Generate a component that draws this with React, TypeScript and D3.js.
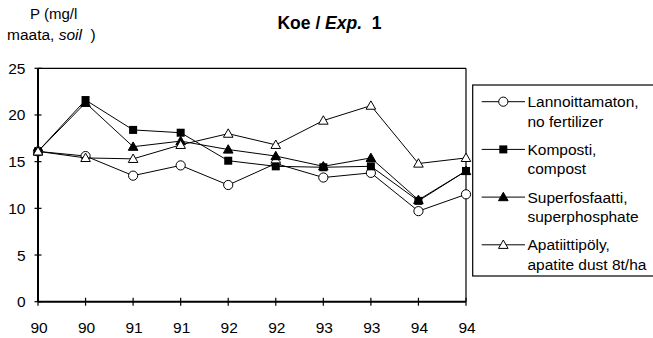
import React from "react";
import * as d3 from "d3";

const categories = ["90", "90", "91", "91", "92", "92", "93", "93", "94", "94"];
const noFertilizer = [16.1, 15.6, 13.5, 14.6, 12.5, 14.8, 13.3, 13.8, 9.7, 11.5];
const compost = [16.1, 21.6, 18.4, 18.1, 15.1, 14.5, 14.4, 14.5, 10.8, 14.0];
const superphosphate = [16.1, 21.3, 16.6, 17.2, 16.3, 15.6, 14.5, 15.4, 10.9, 14.0];
const apatite = [16.1, 15.4, 15.3, 16.8, 18.0, 16.8, 19.4, 21.0, 14.8, 15.4];
const yTicks = [0, 5, 10, 15, 20, 25];

type Marker = "circle" | "square" | "triangleFilled" | "triangleOpen";
const series: { name1: string; name2: string; values: number[]; marker: Marker }[] = [
  { name1: "Lannoittamaton,", name2: "no fertilizer", values: noFertilizer, marker: "circle" },
  { name1: "Komposti,", name2: "compost", values: compost, marker: "square" },
  { name1: "Superfosfaatti,", name2: "superphosphate", values: superphosphate, marker: "triangleFilled" },
  { name1: "Apatiittipöly,", name2: "apatite dust 8t/ha", values: apatite, marker: "triangleOpen" },
];

const FONT = "'Liberation Sans', Arial, sans-serif";

function MarkerShape({ type, x, y }: { type: Marker; x: number; y: number }) {
  if (type === "circle") return <circle cx={x} cy={y} r={4.6} fill="#fff" stroke="#000" strokeWidth={1} />;
  if (type === "square") return <rect x={x - 4} y={y - 4} width={8} height={8} fill="#000" />;
  const s = 4.8;
  const d = `M${x},${y - s}L${x + s},${y + s * 0.75}L${x - s},${y + s * 0.75}Z`;
  return <path d={d} fill={type === "triangleFilled" ? "#000" : "#fff"} stroke="#000" strokeWidth={1} />;
}

export default function App() {
  const W = 653, H = 338;
  const left = 38, right = 466, top = 68.3, bottom = 301.7;
  const x = d3.scalePoint<number>().domain(d3.range(categories.length)).range([left, right]);
  const y = d3.scaleLinear().domain([0, 25]).range([bottom, top]);
  const line = d3.line<number>().x((_, i) => x(i)!).y((v) => y(v));

  const legX = 472.7, legTop = 85, legBottom = 276;
  const rowY0 = 101.7, rowStep = 47.7;

  return (
    <svg width={W} height={H} style={{ position: "absolute", left: 0, top: 0, fontFamily: FONT }}>
      <rect width={W} height={H} fill="#fff" />
      {/* axis title */}
      <text x={30} y={18.5} fontSize={15} fill="#000">P (mg/l</text>
      <text x={7} y={40} fontSize={15.5} fill="#000" style={{ whiteSpace: "pre" }}>
        {"maata, "}<tspan fontStyle="italic">soil</tspan>{"  )"}
      </text>
      {/* chart title */}
      <text x={329.5} y={29.3} fontSize={17.5} fontWeight="bold" textAnchor="middle" fill="#000" style={{ whiteSpace: "pre" }}>
        {"Koe / "}<tspan fontStyle="italic">Exp.</tspan>{"  1"}
      </text>
      {/* plot border */}
      <line x1={left} x2={right} y1={top} y2={top} stroke="#000" strokeWidth={1.2} />
      <line x1={right} x2={right} y1={top} y2={bottom} stroke="#000" strokeWidth={1.2} />
      <line x1={left} x2={left} y1={top} y2={bottom} stroke="#000" strokeWidth={2} />
      <line x1={left} x2={right} y1={bottom} y2={bottom} stroke="#000" strokeWidth={2} />
      {/* y ticks */}
      {yTicks.map((t) => (
        <g key={"y" + t}>
          <line x1={left - 3.5} x2={left + 3.5} y1={y(t)} y2={y(t)} stroke="#000" strokeWidth={1.2} />
          <text x={25.5} y={y(t) + 5.5} fontSize={15.5} textAnchor="end" fill="#000">{t}</text>
        </g>
      ))}
      {/* x ticks */}
      {categories.map((c, i) => (
        <g key={"x" + i}>
          <line x1={x(i)!} x2={x(i)!} y1={bottom - 4} y2={bottom + 4} stroke="#000" strokeWidth={1.2} />
          <text x={x(i)! + 1} y={333} fontSize={15.5} textAnchor="middle" fill="#000">{c}</text>
        </g>
      ))}
      {/* series */}
      {series.map((s) => (
        <g key={s.name1}>
          <path d={line(s.values)!} fill="none" stroke="#000" strokeWidth={1} />
          {s.values.map((v, i) => (
            <MarkerShape key={i} type={s.marker} x={x(i)!} y={y(v)} />
          ))}
        </g>
      ))}
      {/* legend */}
      <rect x={legX} y={legTop} width={W - legX + 5} height={legBottom - legTop} fill="#fff" stroke="#000" strokeWidth={1.2} />
      {series.map((s, i) => {
        const cy = rowY0 + rowStep * i;
        return (
          <g key={"leg" + i}>
            <line x1={481.7} x2={525} y1={cy} y2={cy} stroke="#000" strokeWidth={1} />
            <MarkerShape type={s.marker} x={503.3} y={cy} />
            <text x={527.5} y={cy + 5.5} fontSize={15.5} fill="#000">{s.name1}</text>
            <text x={527.5} y={cy + 25} fontSize={15.5} fill="#000">{s.name2}</text>
          </g>
        );
      })}
    </svg>
  );
}
